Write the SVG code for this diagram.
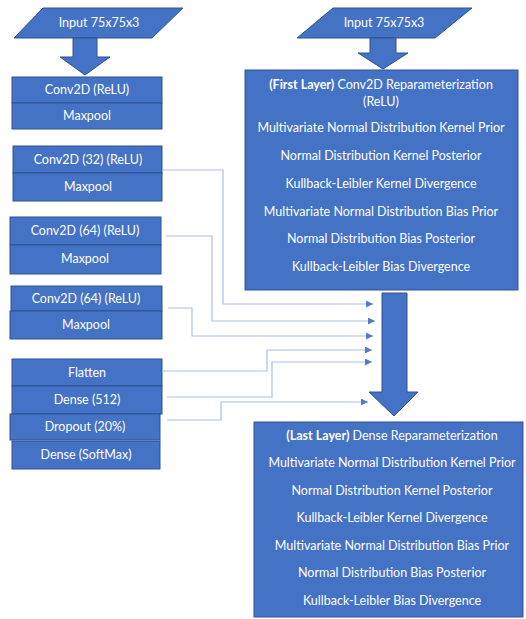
<svg xmlns="http://www.w3.org/2000/svg" width="526" height="619" viewBox="0 0 526 619">
<style>
.n{fill:#4472C4;stroke:#2F528F;stroke-width:1}
.t{font-family:Lato,"Liberation Sans",sans-serif;font-size:12.5px;fill:#FFFFFF;text-anchor:middle}
.b{font-weight:bold}
.c{fill:none;stroke:#A9BFE8;stroke-width:1.2}
</style>
<defs>
<marker id="ah" markerWidth="8" markerHeight="8" refX="7" refY="3.5" orient="auto" markerUnits="userSpaceOnUse">
<path d="M0,0 L7,3.5 L0,7 Z" fill="#4F7BCB"/>
</marker>
</defs>
<rect width="526" height="619" fill="#FFFFFF"/>

<g id="input-left">
<polygon class="n" points="43,8 183,8 152,38 14,38"/>
<text class="t" x="99" y="27">Input 75x75x3</text>
</g>
<g id="arrow-left">
<polygon class="n" points="73,38 97,38 97,57 110,57 85,75 60,57 73,57"/>
</g>
<g id="conv1">
<rect class="n" x="12" y="77" width="150" height="26"/>
<text class="t" x="87" y="94">Conv2D (ReLU)</text>
</g>
<g id="pool1">
<rect class="n" x="12" y="103" width="150" height="26"/>
<text class="t" x="87" y="120">Maxpool</text>
</g>
<g id="conv2">
<rect class="n" x="13" y="146" width="149" height="27"/>
<text class="t" x="88" y="164">Conv2D (32) (ReLU)</text>
</g>
<g id="pool2">
<rect class="n" x="13" y="173" width="149" height="28"/>
<text class="t" x="88" y="191">Maxpool</text>
</g>
<g id="conv3">
<rect class="n" x="10" y="217" width="151" height="28"/>
<text class="t" x="85" y="235">Conv2D (64) (ReLU)</text>
</g>
<g id="pool3">
<rect class="n" x="10" y="245" width="151" height="29"/>
<text class="t" x="85" y="263">Maxpool</text>
</g>
<g id="conv4">
<rect class="n" x="11" y="286" width="151" height="25"/>
<text class="t" x="86" y="303">Conv2D (64) (ReLU)</text>
</g>
<g id="pool4">
<rect class="n" x="10" y="311" width="152" height="28"/>
<text class="t" x="86" y="329">Maxpool</text>
</g>
<g id="flatten">
<rect class="n" x="12" y="359" width="150" height="27"/>
<text class="t" x="87" y="377">Flatten</text>
</g>
<g id="dense512">
<rect class="n" x="12" y="386" width="150" height="28"/>
<text class="t" x="87" y="404">Dense (512)</text>
</g>
<g id="dropout">
<rect class="n" x="10" y="414" width="150" height="26"/>
<text class="t" x="85" y="431">Dropout (20%)</text>
</g>
<g id="softmax">
<rect class="n" x="12" y="441" width="148" height="28"/>
<text class="t" x="86" y="459">Dense (SoftMax)</text>
</g>

<g id="input-right">
<polygon class="n" points="333,8 472,8 435,38 297,38"/>
<text class="t" x="384" y="27">Input 75x75x3</text>
</g>
<g id="arrow-right">
<polygon class="n" points="370,38 396,38 396,53 408,53 383,69 358,53 370,53"/>
</g>
<g id="first-layer">
<rect class="n" x="245" y="70" width="273" height="220"/>
<text class="t" x="381" y="89"><tspan class="b">(First Layer)</tspan> Conv2D Reparameterization</text>
<text class="t" x="381" y="106">(ReLU)</text>
<text class="t" x="381" y="132">Multivariate Normal Distribution Kernel Prior</text>
<text class="t" x="381" y="160">Normal Distribution Kernel Posterior</text>
<text class="t" x="381" y="188">Kullback-Leibler Kernel Divergence</text>
<text class="t" x="381" y="216">Multivariate Normal Distribution Bias Prior</text>
<text class="t" x="381" y="243">Normal Distribution Bias Posterior</text>
<text class="t" x="381" y="271">Kullback-Leibler Bias Divergence</text>
</g>
<g id="arrow-big">
<polygon class="n" points="382,293 407,293 407,392 418,392 394,416 369,392 382,392"/>
</g>
<g id="last-layer">
<rect class="n" x="254" y="422" width="269" height="195"/>
<text class="t" x="392" y="440"><tspan class="b">(Last Layer)</tspan> Dense Reparameterization</text>
<text class="t" x="392" y="467">Multivariate Normal Distribution Kernel Prior</text>
<text class="t" x="392" y="495">Normal Distribution Kernel Posterior</text>
<text class="t" x="392" y="522">Kullback-Leibler Kernel Divergence</text>
<text class="t" x="392" y="550">Multivariate Normal Distribution Bias Prior</text>
<text class="t" x="392" y="577">Normal Distribution Bias Posterior</text>
<text class="t" x="392" y="605">Kullback-Leibler Bias Divergence</text>
</g>

<g id="connectors">
<polyline class="c" points="162,170 223,170 223,304 373,304" marker-end="url(#ah)"/>
<polyline class="c" points="166,236 212,236 212,321 375,321" marker-end="url(#ah)"/>
<polyline class="c" points="168,308 192,308 192,336 373,336" marker-end="url(#ah)"/>
<polyline class="c" points="162,371 267,371 267,350 372,350" marker-end="url(#ah)"/>
<polyline class="c" points="167,397 272,397 272,362 372,362" marker-end="url(#ah)"/>
<polyline class="c" points="167,420 221,420 221,402 368,402" marker-end="url(#ah)"/>
</g>
</svg>
